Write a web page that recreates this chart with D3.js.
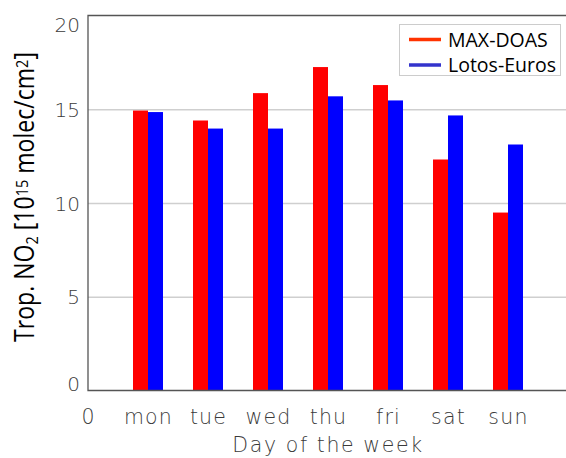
<!DOCTYPE html>
<html lang="en">
<head>
<meta charset="UTF-8">
<title>Trop. NO2 by day of the week</title>
<script src="https://cdn.jsdelivr.net/npm/d3@7"></script>
<style>
    body { margin: 0; background: #fff; }
    .tick text { font-family: "DejaVu Sans", sans-serif; font-weight: 200; fill: #3a3a3a; }
    .legend text { font-family: "Open Sans", sans-serif; fill: #000; }
</style>
</head>
<body>
<script>
    var xTickLabels = ["0", "mon", "tue", "wed", "thu", "fri", "sat", "sun"];
    var maxDoas = [14.93, 14.40, 15.86, 17.25, 16.29, 12.32, 9.49];
    var lotosEuros = [14.85, 13.97, 13.97, 15.69, 15.47, 14.67, 13.12];
    var yTicks = [0, 5, 10, 15, 20];
    var gridTicks = [5, 10, 15];
    var seriesNames = ["MAX-DOAS", "Lotos-Euros"];

    var W = 566, H = 458;
    var margin = {top: 15.5, left: 88},
        plotW = 480,
        plotH = 375;

    var svg = d3.select("body").append("svg")
        .attr("width", W)
        .attr("height", H);

    var x = d3.scaleLinear().domain([0, 8]).range([margin.left, margin.left + plotW]);
    var y = d3.scaleLinear().domain([0, 20]).range([margin.top + plotH, margin.top]);
    var barW = x(0.25) - x(0);

    // grid lines
    svg.append("g")
        .attr("transform", "translate(" + x(0) + ",0)")
        .call(d3.axisLeft(y).tickValues(gridTicks).tickSize(-plotW).tickFormat(""))
        .call(function (g) { g.select(".domain").remove(); })
        .selectAll("line")
        .attr("stroke", "#cfcfcf")
        .attr("stroke-width", 1.5);

    // bars
    var series = [
        {name: seriesNames[0], values: maxDoas, offset: -0.25, color: "#ff0000"},
        {name: seriesNames[1], values: lotosEuros, offset: 0, color: "#0000ff"}
    ];
    series.forEach(function (s) {
        svg.append("g").selectAll("rect")
            .data(s.values)
            .enter().append("rect")
            .attr("x", function (d, i) { return x(i + 1 + s.offset); })
            .attr("width", barW)
            .attr("y", function (d) { return y(d); })
            .attr("height", function (d) { return y(0) - y(d); })
            .attr("fill", s.color);
    });

    // frame
    svg.append("path")
        .attr("d", "M" + x(8) + "," + y(20) + "H" + x(0) + "V" + y(0) + "H" + x(8))
        .attr("fill", "none")
        .attr("stroke", "#555")
        .attr("stroke-width", 1.3);

    // y axis labels
    svg.append("g")
        .attr("transform", "translate(" + (x(0) - 8) + ",0)")
        .call(d3.axisLeft(y).tickValues(yTicks).tickSize(0).tickPadding(0))
        .call(function (g) { g.select(".domain").remove(); })
        .selectAll("text")
        .style("font-size", "20px")
        .attr("dy", function (d) { return d === 20 ? "0.82em" : d === 0 ? "0" : "0.36em"; });

    // x axis labels
    svg.append("g")
        .attr("transform", "translate(0," + y(0) + ")")
        .call(d3.axisBottom(x).tickValues(d3.range(xTickLabels.length))
            .tickSize(0).tickPadding(19)
            .tickFormat(function (d) { return xTickLabels[d]; }))
        .call(function (g) { g.select(".domain").remove(); })
        .selectAll("text")
        .style("font-size", "20.5px")
        .style("letter-spacing", "1.2px");

    // axis titles
    svg.append("text")
        .attr("x", 328)
        .attr("y", 452)
        .attr("text-anchor", "middle")
        .style("font-family", "'DejaVu Sans', sans-serif")
        .style("font-weight", 200)
        .style("font-size", "20.5px")
        .style("letter-spacing", "1.6px")
        .style("fill", "#3a3a3a")
        .text("Day of the week");

    var yTitle = svg.append("text")
        .attr("text-anchor", "middle")
        .style("font-family", "'Open Sans', sans-serif")
        .style("font-size", "27px")
        .style("fill", "#000");
    yTitle.append("tspan").text("Trop. NO");
    yTitle.append("tspan").attr("baseline-shift", "-25%").style("font-size", "17px").text("2");
    yTitle.append("tspan").text(" [10");
    yTitle.append("tspan").attr("baseline-shift", "40%").style("font-size", "17px").text("15");
    yTitle.append("tspan").text(" molec/cm");
    yTitle.append("tspan").attr("baseline-shift", "40%").style("font-size", "17px").text("2");
    yTitle.append("tspan").text("]");
    var tw = yTitle.node().getComputedTextLength();
    yTitle.attr("transform", "translate(34,197) rotate(-90) scale(" + (290 / tw) + ",1)");

    // legend
    var legend = svg.append("g").attr("class", "legend");
    legend.append("rect")
        .attr("x", 399.5).attr("y", 24.5)
        .attr("width", 161).attr("height", 51)
        .attr("fill", "#fff")
        .attr("stroke", "#cccccc");
    var legendColors = ["#ff3300", "#3333cc"];
    seriesNames.forEach(function (name, i) {
        var ly = 39.5 + i * 25.5;
        legend.append("line")
            .attr("x1", 409).attr("x2", 441)
            .attr("y1", ly).attr("y2", ly)
            .attr("stroke", legendColors[i])
            .attr("stroke-width", 3.5);
        legend.append("text")
            .attr("x", 448)
            .attr("y", ly + 7.3)
            .style("font-size", "19.5px")
            .text(name);
    });
</script>
</body>
</html>
